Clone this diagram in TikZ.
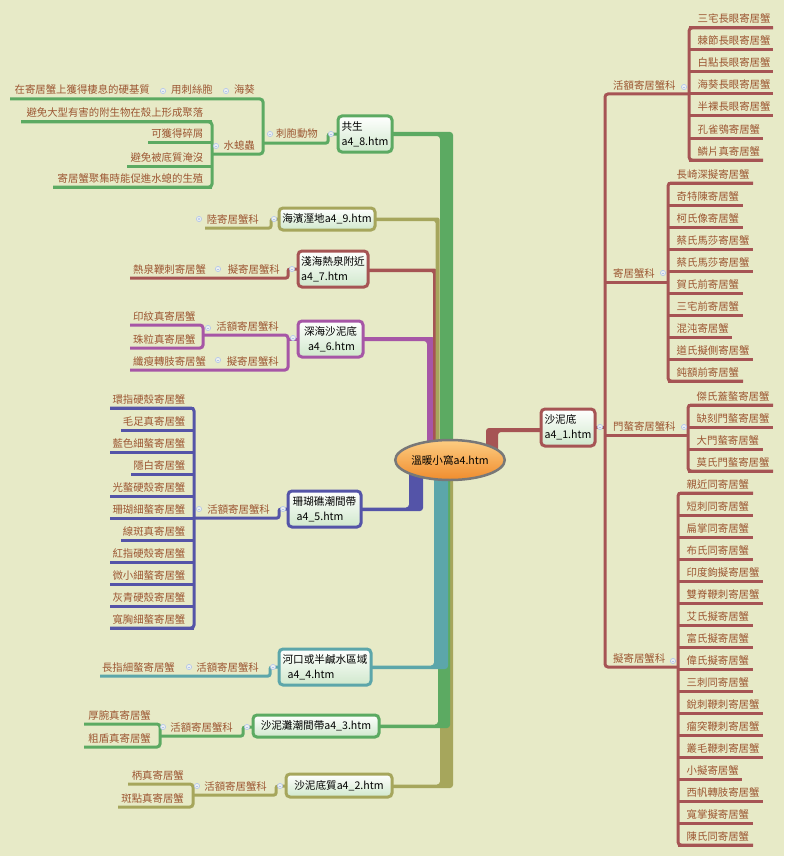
\documentclass[tikz,border=0pt]{standalone}
\usepackage{fontspec}
\setmainfont{Noto Sans CJK TC}
\usetikzlibrary{shapes.geometric}
\definecolor{bg}{RGB}{231,234,199}
\definecolor{cG}{RGB}{92,170,98}
\definecolor{cO}{RGB}{166,166,92}
\definecolor{cR}{RGB}{166,84,84}
\definecolor{cP}{RGB}{166,86,166}
\definecolor{cB}{RGB}{84,84,168}
\definecolor{cT}{RGB}{92,166,170}
\definecolor{lab}{RGB}{156,86,50}
\definecolor{boxb}{RGB}{208,232,204}
\definecolor{dotc}{RGB}{178,196,236}
\definecolor{dotf}{RGB}{236,240,238}
\definecolor{ello}{RGB}{120,120,120}
\definecolor{eltop}{RGB}{253,205,130}
\definecolor{elbot}{RGB}{240,140,45}
\tikzset{
 ul/.style={line width=3pt},
 lbl/.style={text=lab, font=\fontsize{10.4}{12}\selectfont, inner sep=0pt},
 topic/.style={rounded corners=4pt, line width=3pt, top color=white, bottom color=boxb,
   font=\fontsize{10.6}{15}\selectfont, text=black, inner sep=0pt, align=left},
}
\newcommand{\mmdot}[2]{\filldraw[draw=dotc, fill=dotf, line width=0.6pt] (#1,#2) circle[radius=2.6pt];
  \draw[dotc, line width=0.6pt] (#1-1.4,#2) -- (#1+1.4,#2);}
\newcommand{\rleaf}[5]{\draw[ul] (#2,#3) -- (#4,#3); \node[lbl, anchor=base west] (#1) at (#2+8.5,#3-5) {#5};}
\newcommand{\lleaf}[5]{\draw[ul] (#2,#3) -- (#4,#3); \node[lbl, anchor=base east] (#1) at (#4-8.5,#3-5) {#5};}
\begin{document}
\begin{tikzpicture}[x=1pt,y=-1pt]
\fill[bg] (0,0) rectangle (784,856);
\useasboundingbox (0,0) rectangle (784,856);

% ===== trunks =====
\fill[cO, rounded corners=3pt] (453,455) -- (453,788) -- (389,788) -- (389,784.5) -- (440,784.5) -- (440,455) -- cycle;
\fill[cG, rounded corners=3pt] (450,455) -- (450,728) -- (376,728) -- (376,724.5) -- (438,724.5) -- (438,455) -- cycle;
\fill[cT, rounded corners=3pt] (448,455) -- (448,669) -- (368,669) -- (368,665.5) -- (434,665.5) -- (434,455) -- cycle;
\fill[cB, rounded corners=3pt] (423,455) -- (423,511) -- (358,511) -- (358,507.5) -- (409,507.5) -- (409,455) -- cycle;
\fill[cP, rounded corners=3pt] (360,337) -- (435,337) -- (435,455) -- (427,455) -- (427,341) -- (360,341) -- cycle;
\fill[cR, rounded corners=2pt] (365,268.5) -- (436.5,268.5) -- (436.5,455) -- (433,455) -- (433,272) -- (365,272) -- cycle;
\fill[cO, rounded corners=2pt] (370,217.5) -- (439.5,217.5) -- (439.5,455) -- (435.5,455) -- (435.5,221) -- (370,221) -- cycle;
\fill[cG, rounded corners=3pt] (390,132) -- (453,132) -- (453,455) -- (440,455) -- (440,136) -- (390,136) -- cycle;
\fill[cR, rounded corners=3pt] (486,455) -- (486,428) -- (545,428) -- (545,432) -- (498,432) -- (498,455) -- cycle;

% ===== 共生 =====
\begin{scope}[color=cG]
\draw[ul, rounded corners=2pt] (337,134) -- (328,134) -- (328,143) -- (263,143);
\draw[ul, rounded corners=3pt] (10,99) -- (263,99) -- (263,154) -- (212,154);
\draw[ul, rounded corners=3pt] (21,122) -- (212,122) -- (212,187) -- (53,187);
\lleaf{g1}{21}{122}{212}{避免大型有害的附生物在殼上形成聚落}
\lleaf{g2}{148}{142}{212}{可獲得碎屑}
\lleaf{g3}{127}{166}{212}{避免被底質淹沒}
\lleaf{g4}{53}{187}{212}{寄居蟹聚集時能促進水螅的生殖}
\end{scope}
\node[lbl, anchor=base east] (cib) at (318,138) {刺胞動物};
\node[lbl, anchor=base east] (hk) at (255,94) {海葵};
\node[lbl, anchor=base east] (ycs) at (213,94) {用刺絲胞};
\node[lbl, anchor=base east] (zjz) at (150,94) {在寄居蟹上獲得棲息的硬基質};
\node[lbl, anchor=base east] (sxc) at (255,149) {水螅蟲};
\mmdot{331}{134}\mmdot{270}{134}\mmdot{226}{91}\mmdot{163}{91}\mmdot{216}{146}
\node[topic, draw=cG, minimum width=54pt, minimum height=36pt] (b8) at (365,134) {共生\\a4\_8.htm};

% ===== 海濱溼地 =====
\begin{scope}[color=cO]
\draw[ul, rounded corners=2pt] (278,219) -- (271,219) -- (271,228) -- (205,228);
\end{scope}
\node[lbl, anchor=base east] (lu) at (259,223) {陸寄居蟹科};
\mmdot{274}{219}
\filldraw[draw=dotc, fill=dotf, line width=0.6pt] (199,219) circle[radius=2.6pt];
\fill[dotc] (199,219) circle[radius=1.1pt];
\node[topic, draw=cO, minimum width=96pt, minimum height=22pt] (b9) at (327,219) {海濱溼地a4\_9.htm};

% ===== 淺海熱泉附近 =====
\begin{scope}[color=cR]
\draw[ul, rounded corners=2pt] (297,269) -- (288,269) -- (288,278) -- (130,278);
\end{scope}
\node[lbl, anchor=base east] (r7a) at (280,273) {擬寄居蟹科};
\node[lbl, anchor=base west] (r7b) at (133,273) {熱泉鞭刺寄居蟹};
\mmdot{292}{269}\mmdot{218}{269}
\node[topic, draw=cR, minimum width=70pt, minimum height=36pt] (b7) at (333,269) {淺海熱泉附近\\a4\_7.htm};

% ===== 深海沙泥底 =====
\begin{scope}[color=cP]
\draw[ul, rounded corners=3pt] (203,335) -- (288,335) -- (288,370) -- (130,370);
\draw[ul] (297,339) -- (288,339);
\draw[ul, rounded corners=3pt] (130,325) -- (203,325) -- (203,348) -- (130,348);
\end{scope}
\node[lbl, anchor=base east] (p6a) at (279,330) {活額寄居蟹科};
\node[lbl, anchor=base east] (p6b) at (279,365) {擬寄居蟹科};
\node[lbl, anchor=base west] (p6c) at (133,320) {印紋真寄居蟹};
\node[lbl, anchor=base west] (p6d) at (133,343) {珠粒真寄居蟹};
\node[lbl, anchor=base west] (p6e) at (133,365) {纖瘦轉肢寄居蟹};
\mmdot{293}{338}\mmdot{208}{328}\mmdot{218}{360}
\node[topic, draw=cP, minimum width=65pt, minimum height=36pt] (b6) at (330.5,339) {深海沙泥底\\\hspace{4pt}a4\_6.htm};

% ===== 珊瑚礁潮間帶 =====
\begin{scope}[color=cB]
\draw[ul, rounded corners=2pt] (287,509) -- (279,509) -- (279,518) -- (194,518);
\draw[ul, rounded corners=3pt] (110,408) -- (194,408) -- (194,628) -- (110,628);
\lleaf{s1}{110}{408}{194}{環指硬殼寄居蟹}
\lleaf{s2}{121}{430}{194}{毛足真寄居蟹}
\lleaf{s3}{110}{452}{194}{藍色細螯寄居蟹}
\lleaf{s4}{131}{474}{194}{隱白寄居蟹}
\lleaf{s5}{110}{496}{194}{光螯硬殼寄居蟹}
\lleaf{s6}{110}{518}{194}{珊瑚細螯寄居蟹}
\lleaf{s7}{121}{540}{194}{線斑真寄居蟹}
\lleaf{s8}{110}{562}{194}{紅指硬殼寄居蟹}
\lleaf{s9}{110}{584}{194}{微小細螯寄居蟹}
\lleaf{s10}{110}{606}{194}{灰青硬殼寄居蟹}
\lleaf{s11}{110}{628}{194}{寬胸細螯寄居蟹}
\end{scope}
\node[lbl, anchor=base east] (b5a) at (270,513) {活額寄居蟹科};
\mmdot{283}{509}\mmdot{199}{509}
\node[topic, draw=cB, minimum width=73pt, minimum height=36pt] (b5) at (324.5,509) {珊瑚礁潮間帶\\\hspace{4pt}a4\_5.htm};

% ===== 河口 =====
\begin{scope}[color=cT]
\draw[ul, rounded corners=2pt] (278,667) -- (270,667) -- (270,676) -- (100,676);
\end{scope}
\node[lbl, anchor=base east] (t4a) at (259,671) {活額寄居蟹科};
\node[lbl, anchor=base east] (t4b) at (175,671) {長指細螯寄居蟹};
\mmdot{273}{667}\mmdot{189}{667}
\node[topic, draw=cT, minimum width=92pt, minimum height=36pt] (b4) at (325,667) {河口或半鹹水區域\\\hspace{5pt}a4\_4.htm};

% ===== 沙泥灘潮間帶 =====
\begin{scope}[color=cG]
\draw[ul, rounded corners=2pt] (252,727) -- (243,727) -- (243,736) -- (160,736);
\draw[ul, rounded corners=3pt] (84,724) -- (160,724) -- (160,747) -- (84,747);
\end{scope}
\node[lbl, anchor=base east] (g3a) at (233,731) {活額寄居蟹科};
\node[lbl, anchor=base east] (g3b) at (151,719) {厚腕真寄居蟹};
\node[lbl, anchor=base east] (g3c) at (151,742) {粗盾真寄居蟹};
\mmdot{247}{727}\mmdot{163}{727}
\node[topic, draw=cG, minimum width=126pt, minimum height=22pt] (b3) at (316,726) {沙泥灘潮間帶a4\_3.htm};

% ===== 沙泥底質 =====
\begin{scope}[color=cO]
\draw[ul, rounded corners=2pt] (285,786) -- (276,786) -- (276,795) -- (193,795);
\draw[ul, rounded corners=3pt] (128,784) -- (193,784) -- (193,807) -- (118,807);
\end{scope}
\node[lbl, anchor=base east] (o2a) at (267,790) {活額寄居蟹科};
\node[lbl, anchor=base east] (o2b) at (184,779) {柄真寄居蟹};
\node[lbl, anchor=base east] (o2c) at (184,802) {斑點真寄居蟹};
\mmdot{280}{786}\mmdot{197}{786}
\node[topic, draw=cO, minimum width=106pt, minimum height=23pt] (b2) at (339,785.5) {沙泥底質a4\_2.htm};

% ===== 沙泥底 (right) =====
\begin{scope}[color=cR]
\draw[ul, rounded corners=3pt] (689,94) -- (605,94) -- (605,667) -- (678,667);
\draw[ul] (596,427) -- (605,427);
\draw[ul] (605,282) -- (668,282);
\draw[ul] (605,435) -- (688,435);
\draw[ul, rounded corners=3pt] (773,28) -- (689,28) -- (689,160) -- (763,160);
\rleaf{a1}{689}{28}{773}{三宅長眼寄居蟹}
\rleaf{a2}{689}{50}{773}{棘節長眼寄居蟹}
\rleaf{a3}{689}{72}{773}{白點長眼寄居蟹}
\rleaf{a4}{689}{94}{773}{海葵長眼寄居蟹}
\rleaf{a5}{689}{116}{773}{半裸長眼寄居蟹}
\rleaf{a6}{689}{138}{763}{孔雀鴞寄居蟹}
\rleaf{a7}{689}{160}{763}{鱗片真寄居蟹}
\draw[ul, rounded corners=3pt] (753,183) -- (668,183) -- (668,381) -- (743,381);
\rleaf{c1}{668}{183}{753}{長崎深擬寄居蟹}
\rleaf{c2}{668}{205}{743}{奇特陳寄居蟹}
\rleaf{c3}{668}{227}{743}{柯氏像寄居蟹}
\rleaf{c4}{668}{249}{753}{蔡氏馬莎寄居蟹}
\rleaf{c5}{668}{271}{753}{蔡氏馬莎寄居蟹}
\rleaf{c6}{668}{293}{743}{賀氏前寄居蟹}
\rleaf{c7}{668}{315}{743}{三宅前寄居蟹}
\rleaf{c8}{668}{337}{732}{混沌寄居蟹}
\rleaf{c9}{668}{359}{753}{道氏擬側寄居蟹}
\rleaf{c10}{668}{381}{743}{鈍額前寄居蟹}
\draw[ul, rounded corners=3pt] (773,405) -- (688,405) -- (688,471) -- (773,471);
\rleaf{m1}{688}{405}{773}{傑氏蓋螯寄居蟹}
\rleaf{m2}{688}{427}{773}{缺刻門螯寄居蟹}
\rleaf{m3}{688}{449}{763}{大門螯寄居蟹}
\rleaf{m4}{688}{471}{773}{莫氏門螯寄居蟹}
\draw[ul, rounded corners=3pt] (753,493) -- (678,493) -- (678,845) -- (753,845);
\rleaf{n1}{678}{493}{753}{親近同寄居蟹}
\rleaf{n2}{678}{515}{753}{短刺同寄居蟹}
\rleaf{n3}{678}{537}{753}{扁掌同寄居蟹}
\rleaf{n4}{678}{559}{753}{布氏同寄居蟹}
\rleaf{n5}{678}{581}{763}{印度鉤擬寄居蟹}
\rleaf{n6}{678}{603}{763}{雙脊鞭刺寄居蟹}
\rleaf{n7}{678}{625}{753}{艾氏擬寄居蟹}
\rleaf{n8}{678}{647}{753}{富氏擬寄居蟹}
\rleaf{n9}{678}{669}{753}{偉氏擬寄居蟹}
\rleaf{n10}{678}{691}{753}{三刺同寄居蟹}
\rleaf{n11}{678}{713}{763}{銳刺鞭刺寄居蟹}
\rleaf{n12}{678}{735}{763}{瘤突鞭刺寄居蟹}
\rleaf{n13}{678}{757}{763}{叢毛鞭刺寄居蟹}
\rleaf{n14}{678}{779}{742}{小擬寄居蟹}
\rleaf{n15}{678}{801}{763}{西帆轉肢寄居蟹}
\rleaf{n16}{678}{823}{753}{寬掌擬寄居蟹}
\rleaf{n17}{678}{845}{753}{陳氏同寄居蟹}
\end{scope}
\node[lbl, anchor=base west] (f1) at (613,90) {活額寄居蟹科};
\node[lbl, anchor=base west] (f2) at (613,277) {寄居蟹科};
\node[lbl, anchor=base west] (f3) at (613,430) {門螯寄居蟹科};
\node[lbl, anchor=base west] (f4) at (613,662) {擬寄居蟹科};
\mmdot{600}{427}\mmdot{684}{87}\mmdot{663}{273}\mmdot{684}{427}\mmdot{673}{661}
\node[topic, draw=cR, minimum width=54pt, minimum height=37pt] (b1) at (568,427.5) {沙泥底\\a4\_1.htm};

% ===== center =====
\node[ellipse, draw=ello, line width=2.5pt, top color=eltop, bottom color=elbot,
  minimum width=108pt, minimum height=40pt, inner sep=0pt,
  font=\fontsize{10.6}{12}\selectfont] (ctr) at (450,460) {溫暖小窩a4.htm};
\end{tikzpicture}
\end{document}
